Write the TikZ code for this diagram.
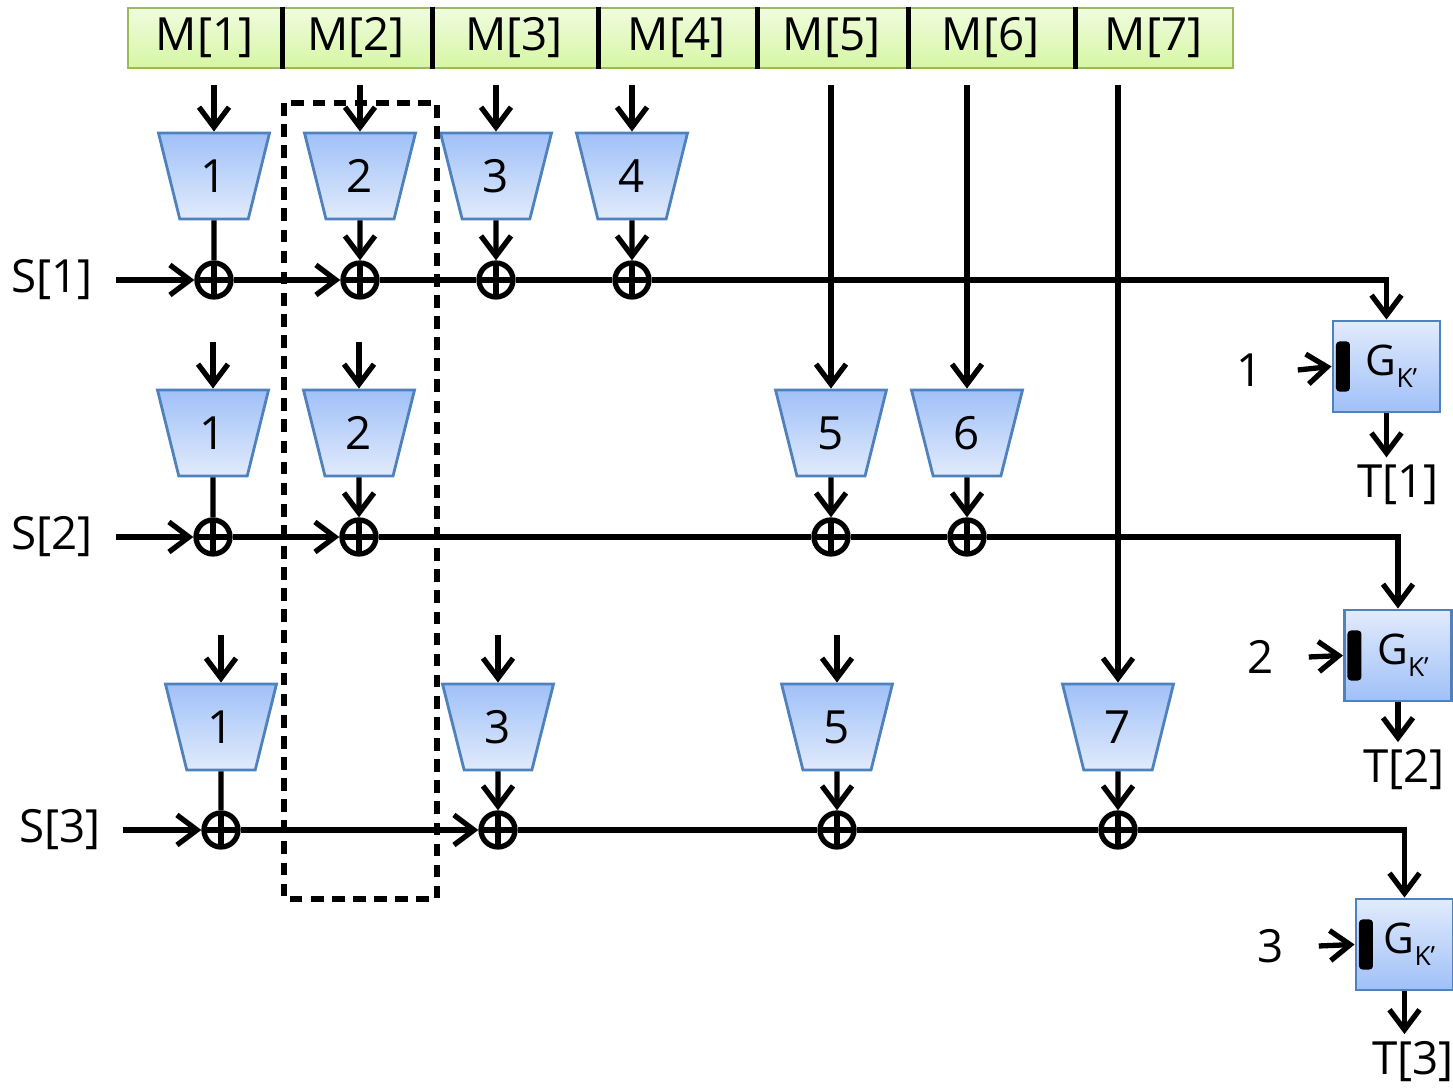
\documentclass[tikz,border=0pt]{standalone}
\usepackage{fontspec}
\setmainfont{Open Sans}
\usepackage{xcolor}
\usetikzlibrary{arrows.meta, shapes.geometric, positioning}

\definecolor{celltop}{RGB}{240,252,222}
\definecolor{cellbot}{RGB}{214,246,164}
\definecolor{cellline}{RGB}{155,187,89}
\definecolor{funtop}{RGB}{160,192,248}
\definecolor{funbot}{RGB}{225,235,252}
\definecolor{funline}{RGB}{79,129,189}

\begin{document}
\begin{tikzpicture}[x=0.01cm, y=-0.01cm,
		wire/.style={line width=1.5pt},
		arr/.style={wire, -{Straight Barb[length=2mm, width=3mm]}},
		cell/.style={draw=cellline, line width=0.8pt, top color=celltop, bottom color=cellbot,
			minimum height=0.6cm, inner sep=0pt, font=\fontsize{13}{15}\selectfont},
		fun/.style={trapezium, trapezium stretches=true, trapezium angle=76, shape border rotate=180,
			minimum width=1.11cm, minimum height=0.86cm, inner sep=0pt,
			draw=funline, line width=0.8pt, top color=funtop, bottom color=funbot,
			font=\fontsize{13}{15}\selectfont},
		xor/.style={circle, draw, line width=1.5pt, minimum size=0.34cm, inner sep=0pt,
			path picture={\draw[line width=1.5pt] (path picture bounding box.north) -- (path picture bounding box.south)
				(path picture bounding box.west) -- (path picture bounding box.east);}},
		gen/.style={draw=funline, line width=0.8pt, top color=funbot, bottom color=funtop,
			minimum width=1.07cm, minimum height=0.91cm, inner sep=0pt, font=\fontsize{12}{14}\selectfont,
			path picture={\fill[rounded corners=1pt] ([xshift=0.03cm, yshift=-0.25cm]path picture bounding box.west)
				rectangle ++(0.14cm,0.5cm);}},
		lbl/.style={font=\fontsize{13}{15}\selectfont, inner sep=0pt}
	]
	\useasboundingbox (0,0) rectangle (1453,1089);
	
	\def\gk{G\raisebox{-0.55ex}{\fontsize{7.5}{8}\selectfont K'}}
	
	% message blocks along the top
	\foreach \i/\x/\w in {1/204.5/1.53, 2/356/1.50, 3/514/1.66, 4/676.5/1.59, 5/831.5/1.51, 6/990.5/1.67, 7/1153.5/1.59}
		\node[cell, minimum width=\w cm] (m\i) at (\x,38) {M[\i]};
	\foreach \i in {1,...,6}
		\draw[line width=1.5pt] (m\i.north east) -- (m\i.south east);
	
	% first row
	\foreach \i/\x in {1/214, 2/360, 3/496, 4/632} {
		\node[fun] (f1\i) at (\x,176) {\i};
		\node[xor] (x1\i) at (\x,280) {};
		\draw[arr] (f1\i.north |- 0,85) -- (f1\i.north);
	}
	\draw[wire] (f11.south) -- (x11.north);
	\foreach \i in {2,3,4}
		\draw[arr] (f1\i.south) -- (x1\i.north);
	
	% second row
	\foreach \i/\x in {1/213, 2/359, 5/831, 6/967} {
		\node[fun] (f2\i) at (\x,433) {\i};
		\node[xor] (x2\i) at (\x,537) {};
	}
	\foreach \i in {1,2}
		\draw[arr] (f2\i.north |- 0,342) -- (f2\i.north);
	\foreach \i in {5,6}
		\draw[arr] (f2\i.north |- 0,85) -- (f2\i.north);
	\draw[wire] (f21.south) -- (x21.north);
	\foreach \i in {2,5,6}
		\draw[arr] (f2\i.south) -- (x2\i.north);
	
	% third row
	\foreach \i/\x in {1/221, 3/498, 5/837, 7/1118} {
		\node[fun] (f3\i) at (\x,727) {\i};
		\node[xor] (x3\i) at (\x,830) {};
	}
	\foreach \i in {1,3,5}
		\draw[arr] (f3\i.north |- 0,635) -- (f3\i.north);
	\draw[arr] (f37.north |- 0,85) -- (f37.north);
	\draw[wire] (f31.south) -- (x31.north);
	\foreach \i in {3,5,7}
		\draw[arr] (f3\i.south) -- (x3\i.north);
	
	% tag generators
	\node[gen] (g1) at (1386.5,366.5) {\hspace*{0.1cm}\gk};
	\node[gen] (g2) at (1398,655.5) {\hspace*{0.1cm}\gk};
	\node[gen, minimum width=0.97cm] (g3) at (1404.5,944.5) {\hspace*{0.1cm}\gk};
	
	\node[lbl] (s1) at (52,280) {S[1]};
	\node[lbl] (s2) at (52,537) {S[2]};
	\node[lbl] (s3) at (60,830) {S[3]};
	
	\node[lbl] (c1) at (1250,370) {1};
	\node[lbl] (c2) at (1261,657) {2};
	\node[lbl] (c3) at (1271,946) {3};
	
	\node[lbl] (t1) at (1398,485) {T[1]};
	\node[lbl] (t2) at (1404,770) {T[2]};
	\node[lbl] (t3) at (1413,1062) {T[3]};
	
	% chaining values
	\draw[arr] ([xshift=0.23cm]s1.east) -- (x11.west);
	\draw[arr] (x11.east) -- (x12.west);
	\draw[wire] (x12.east) -- (x13.west) (x13.east) -- (x14.west);
	\draw[arr] (x14.east) -| (g1.north);
	
	\draw[arr] ([xshift=0.23cm]s2.east) -- (x21.west);
	\draw[arr] (x21.east) -- (x22.west);
	\draw[wire] (x22.east) -- (x25.west) (x25.east) -- (x26.west);
	\draw[arr] (x26.east) -| (g2.north);
	
	\draw[arr] ([xshift=0.22cm]s3.east) -- (x31.west);
	\draw[arr] (x31.east) -- (x33.west);
	\draw[wire] (x33.east) -- (x35.west) (x35.east) -- (x37.west);
	\draw[arr] (x37.east) -| (g3.north);
	
	\foreach \i in {1,2,3} {
		\draw[arr] ([xshift=0.34cm]c\i.east) -- (g\i.west);
		\draw[arr, shorten >=0.07cm] (g\i.south) -- (g\i.south |- t\i.north);
	}
	
	% shared column
	\draw[line width=1.5pt, dash pattern=on 3.6pt off 2.4pt] (284,103) rectangle (437,899);
\end{tikzpicture}
\end{document}
